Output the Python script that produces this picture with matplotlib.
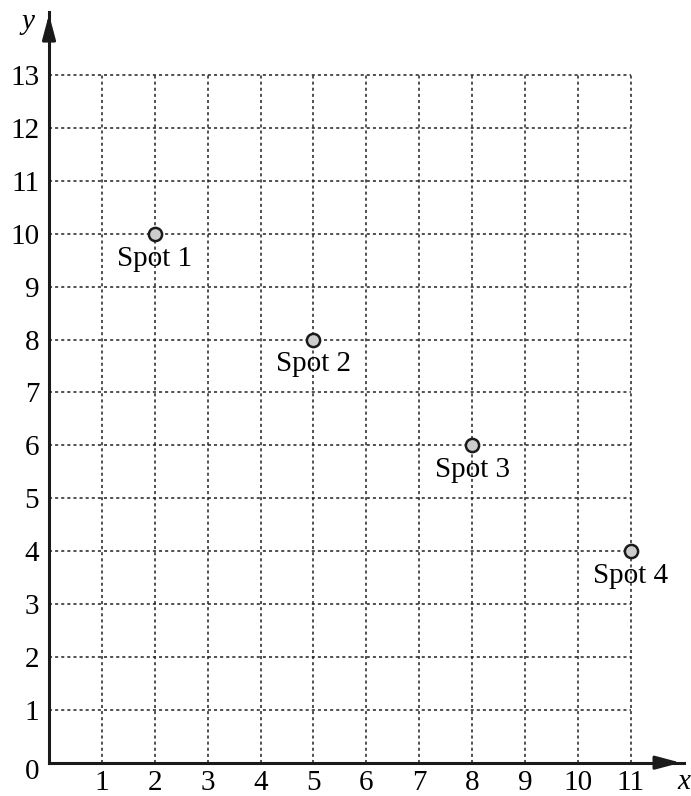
import matplotlib.pyplot as plt

# data
spot_x = [2, 5, 8, 11]
spot_y = [10, 8, 6, 4]
spot_labels = ['Spot 1', 'Spot 2', 'Spot 3', 'Spot 4']
x_ticks = list(range(1, 12))
y_ticks = list(range(1, 14))

plt.rcParams['font.family'] = ['Liberation Serif', 'DejaVu Serif']

fig = plt.figure(figsize=(6.91, 7.96), dpi=100)
W, H = 691, 796
unit_x, unit_y = 52.88, 52.9
x0, y0 = 49, 796 - 762.7
xmax, ymax = 12.0, 14.2
ax = fig.add_axes([x0 / W, y0 / H, xmax * unit_x / W, ymax * unit_y / H])
ax.set_xlim(0, xmax)
ax.set_ylim(0, ymax)

# dotted grid
grid_kw = dict(color='#222222', linewidth=1.1, linestyle=(0, (2, 2)), zorder=1)
ax.vlines(x_ticks, 0, 13, **grid_kw)
ax.hlines(y_ticks, 0, 11, **grid_kw)

# axes with arrows
for s in ['top', 'right']:
    ax.spines[s].set_visible(False)
for s in ['left', 'bottom']:
    ax.spines[s].set_linewidth(2.2)
    ax.spines[s].set_color('#1a1a1a')
arrow = dict(arrowstyle='-|>,head_length=1.5,head_width=0.4', color='#1a1a1a', lw=2.2)
ax.annotate('', xy=(xmax, 0), xytext=(xmax - 0.5, 0),
            arrowprops=arrow, annotation_clip=False)
ax.annotate('', xy=(0, ymax), xytext=(0, ymax - 0.5),
            arrowprops=arrow, annotation_clip=False)

fs = 21
ax.set_xticks(x_ticks)
ax.set_yticks(y_ticks)
ax.tick_params(length=0, labelsize=fs)
ax.tick_params(axis='x', pad=5)
ax.tick_params(axis='y', pad=7)
ax.text(-0.32, -0.18, '0', fontsize=fs, ha='center', va='center')
ax.text(12.0, -0.36, 'x', fontsize=fs, style='italic', ha='center', va='center')
ax.text(-0.4, 14.0, 'y', fontsize=fs, style='italic', ha='center', va='center')

# spots
ax.plot(spot_x, spot_y, 'o', markersize=9.5, markerfacecolor='#cccccc',
        markeredgecolor='#1a1a1a', markeredgewidth=1.8, linestyle='none', zorder=3)
for x, y, lab in zip(spot_x, spot_y, spot_labels):
    ax.text(x, y - 0.47, lab, fontsize=fs, ha='center', va='center', zorder=4)

fig.savefig('out.png', dpi=100)
